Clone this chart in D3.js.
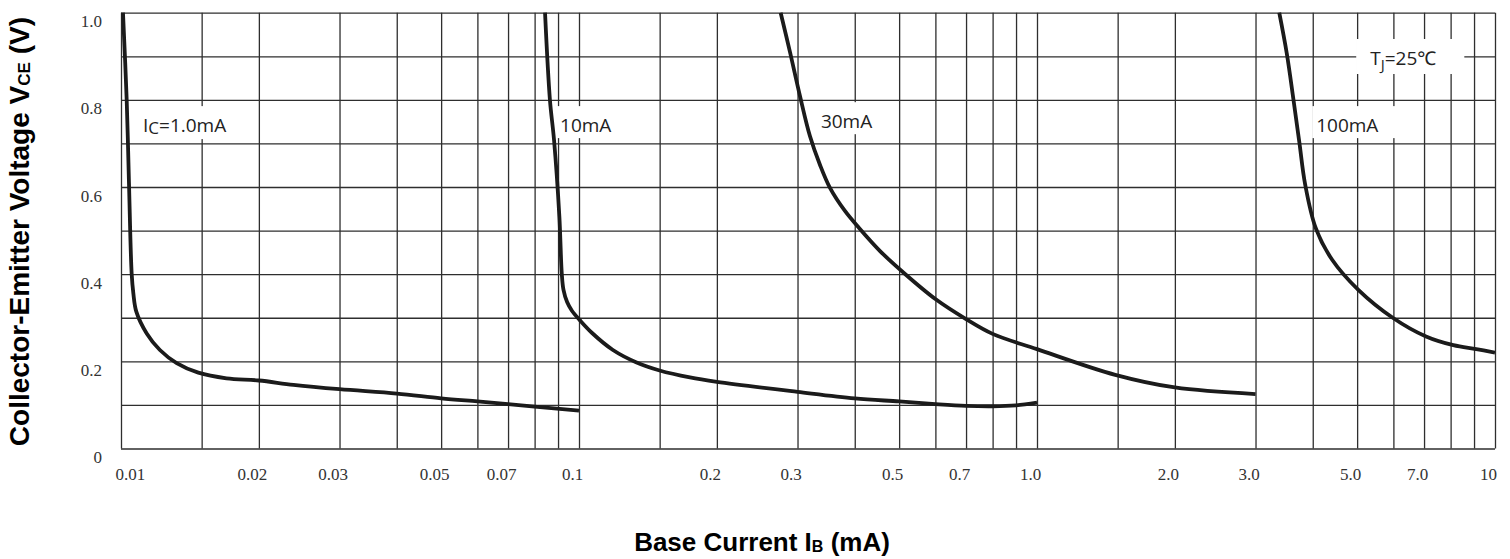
<!DOCTYPE html>
<html>
<head>
<meta charset="utf-8">
<script src="https://cdn.jsdelivr.net/npm/d3@7/dist/d3.min.js"></script>
<style>
  body { margin: 0; background: #fff; }
  svg { display: block; }
</style>
</head>
<body>
<svg id="chart" width="1510" height="559"></svg>
<script>
// V_CE vs I_B saturation curves, one pair of arrays per collector current
const ic1mA_ib   = [0.0101, 0.01029, 0.01041, 0.01055, 0.01064, 0.0108, 0.01138, 0.01216, 0.01323, 0.01475, 0.0170, 0.0200, 0.0238, 0.0300, 0.040, 0.050, 0.060, 0.070, 0.080, 0.100];
const ic1mA_vce  = [1.00, 0.80, 0.608, 0.402, 0.356, 0.314, 0.264, 0.226, 0.196, 0.174, 0.161, 0.156, 0.146, 0.136, 0.126, 0.115, 0.108, 0.102, 0.096, 0.087];

const ic10mA_ib  = [0.0843, 0.0864, 0.0882, 0.0906, 0.0917, 0.0925, 0.0942, 0.0965, 0.1005, 0.1068, 0.1186, 0.1332, 0.150, 0.1747, 0.200, 0.300, 0.400, 0.500, 0.600, 0.700, 0.800, 0.900, 1.00];
const ic10mA_vce = [1.00, 0.80, 0.708, 0.532, 0.402, 0.364, 0.336, 0.316, 0.294, 0.265, 0.226, 0.198, 0.179, 0.163, 0.153, 0.130, 0.115, 0.108, 0.102, 0.098, 0.097, 0.099, 0.105];

const ic30mA_ib  = [0.2756, 0.2888, 0.3037, 0.3193, 0.3358, 0.3532, 0.3808, 0.4088, 0.4543, 0.5093, 0.600, 0.700, 0.800, 1.00, 1.482, 2.00, 3.00];
const ic30mA_vce = [1.00, 0.910, 0.809, 0.717, 0.651, 0.598, 0.545, 0.506, 0.453, 0.405, 0.343, 0.297, 0.263, 0.228, 0.169, 0.140, 0.125];

const ic100mA_ib  = [3.38, 3.51, 3.63, 3.74, 3.85, 4.06, 4.41, 5.03, 5.98, 7.07, 8.11, 9.1, 10.0];
const ic100mA_vce = [1.00, 0.907, 0.801, 0.702, 0.606, 0.506, 0.433, 0.364, 0.300, 0.257, 0.237, 0.228, 0.220];

// Axis tick labels
const xTickValues = [0.01, 0.02, 0.03, 0.05, 0.07, 0.1, 0.2, 0.3, 0.5, 0.7, 1, 2, 3, 5, 7, 10];
const xTickText   = ["0.01", "0.02", "0.03", "0.05", "0.07", "0.1", "0.2", "0.3", "0.5", "0.7", "1.0", "2.0", "3.0", "5.0", "7.0", "10"];
const yTickValues = [0, 0.2, 0.4, 0.6, 0.8, 1.0];
const yTickText   = ["0", "0.2", "0.4", "0.6", "0.8", "1.0"];

// Grid: log-decade subdivisions and 0.1 V steps
const gridMantissas = [1, 1.5, 2, 3, 4, 5, 6, 7, 8, 9];
const gridDecades   = [0.01, 0.1, 1];
const yGridValues   = [0, 0.1, 0.2, 0.3, 0.4, 0.5, 0.6, 0.7, 0.8, 0.9, 1.0];

const series = [
  { ib: ic1mA_ib,   vce: ic1mA_vce },
  { ib: ic10mA_ib,  vce: ic10mA_vce },
  { ib: ic30mA_ib,  vce: ic30mA_vce },
  { ib: ic100mA_ib, vce: ic100mA_vce }
];

const svg = d3.select("#chart");
const plotLeft = 121, plotRight = 1495, plotTop = 12.7, plotBottom = 448.5;

const x = d3.scaleLog().domain([0.01, 10]).range([plotLeft, plotRight]);
const y = d3.scaleLinear().domain([0, 1]).range([plotBottom, plotTop]);

const gridColor = "#2e2e2e";

// vertical grid lines
const xGridValues = gridDecades.flatMap(d => gridMantissas.map(m => +(m * d).toPrecision(3))).concat([10]);
const gx = svg.append("g")
  .attr("transform", `translate(0,${plotBottom})`)
  .call(d3.axisBottom(x).tickValues(xGridValues).tickSize(-(plotBottom - plotTop)).tickFormat(""));
gx.select(".domain").remove();
gx.selectAll(".tick line").attr("stroke", gridColor).attr("stroke-width", 1.3);

// horizontal grid lines
const gy = svg.append("g")
  .attr("transform", `translate(${plotLeft},0)`)
  .call(d3.axisLeft(y).tickValues(yGridValues).tickSize(-(plotRight - plotLeft)).tickFormat(""));
gy.select(".domain").remove();
gy.selectAll(".tick line").attr("stroke", gridColor).attr("stroke-width", 1.3);

// x tick labels
const xl = svg.append("g")
  .attr("transform", `translate(0,${plotBottom})`)
  .call(d3.axisBottom(x).tickValues(xTickValues).tickSize(0).tickFormat((d, i) => xTickText[i]));
xl.select(".domain").remove();
xl.selectAll(".tick text")
  .attr("y", 19.5)
  .attr("font-family", "'Liberation Serif', 'DejaVu Serif', serif")
  .attr("font-size", 17)
  .attr("fill", "#333")
  .attr("dx", (d, i) => i === 0 ? -6 : -7)
  .attr("text-anchor", (d, i) => i === 0 ? "start" : "middle");

// y tick labels
const yl = svg.append("g")
  .attr("transform", `translate(${plotLeft},0)`)
  .call(d3.axisLeft(y).tickValues(yTickValues).tickSize(0).tickFormat((d, i) => yTickText[i]));
yl.select(".domain").remove();
yl.selectAll(".tick text")
  .attr("x", -19)
  .attr("dy", 14)
  .attr("font-family", "'Liberation Serif', 'DejaVu Serif', serif")
  .attr("font-size", 17)
  .attr("fill", "#333");

// curves
svg.append("clipPath").attr("id", "plot-clip")
  .append("rect").attr("x", plotLeft).attr("y", plotTop - 1).attr("width", plotRight - plotLeft).attr("height", plotBottom - plotTop + 1);

const line = d3.line()
  .x(d => x(d[0]))
  .y(d => y(d[1]))
  .curve(d3.curveCatmullRom.alpha(0.5));

svg.append("g").attr("clip-path", "url(#plot-clip)")
  .selectAll("path")
  .data(series)
  .join("path")
  .attr("d", s => line(s.ib.map((v, i) => [v, s.vce[i]])))
  .attr("fill", "none")
  .attr("stroke", "#1b1b1b")
  .attr("stroke-width", 3.8)
  .attr("stroke-linejoin", "round");

// curve annotations on white backing boxes (anchored in data units)
const notes = [
  { parts: [["I", 0], ["C", 1], ["=1.0mA", 0]], ib: 0.01117, v: 0.726, padL: 4, padR: 6 },
  { parts: [["10mA", 0]], ib: 0.0909, v: 0.726, padL: 3, padR: 4 },
  { parts: [["30mA", 0]], ib: 0.3374, v: 0.735, padL: 5, padR: 6 },
  { parts: [["100mA", 0]], ib: 4.07, v: 0.726, padL: 4, padR: 20 },
  { parts: [["T", 0], ["J", 2], ["=25℃", 0]], ib: 5.34, v: 0.880, padL: 14, padR: 28 }
];

const noteLayer = svg.append("g");
notes.forEach(n => {
  const g = noteLayer.append("g");
  const rect = g.append("rect").attr("fill", "#fff");
  const t = g.append("text")
    .attr("x", x(n.ib))
    .attr("y", y(n.v))
    .attr("font-family", "'Open Sans', 'Noto Sans', sans-serif")
    .attr("font-size", 19)
    .attr("fill", "#222");
  n.parts.forEach(([s, kind], i) => {
    const ts = t.append("tspan").text(s);
    if (kind === 1) ts.attr("font-size", 17).attr("dy", 2);
    if (kind === 2) ts.attr("font-size", 15).attr("dy", 5);
    // return to the base line after a lowered part
    if (i > 0 && kind === 0 && n.parts[i - 1][1] === 1) ts.attr("dy", -2);
    if (i > 0 && kind === 0 && n.parts[i - 1][1] === 2) ts.attr("dy", -5);
  });
  const bb = t.node().getBBox();
  rect.attr("x", bb.x - n.padL)
    .attr("y", bb.y - 6)
    .attr("width", bb.width + n.padL + n.padR)
    .attr("height", bb.height + 6);
});

// axis titles
const titleFont = "'Liberation Sans', Arial, sans-serif";
const xt = svg.append("text")
  .attr("x", 762).attr("y", 551)
  .attr("text-anchor", "middle")
  .attr("font-family", titleFont).attr("font-weight", "bold").attr("font-size", 26)
  .attr("fill", "#000");
xt.append("tspan").text("Base Current I");
xt.append("tspan").text("B").attr("font-size", 16).attr("dy", 1);
xt.append("tspan").text(" (mA)").attr("dy", -1);

const yt = svg.append("text")
  .attr("transform", `translate(29,${(plotTop + plotBottom) / 2 + 1}) rotate(-90)`)
  .attr("text-anchor", "middle")
  .attr("font-family", titleFont).attr("font-weight", "bold").attr("font-size", 28)
  .attr("fill", "#000");
yt.append("tspan").text("Collector-Emitter Voltage V");
yt.append("tspan").text("CE").attr("font-size", 17).attr("dy", 1);
yt.append("tspan").text(" (V)").attr("dy", -1);
</script>
</body>
</html>
